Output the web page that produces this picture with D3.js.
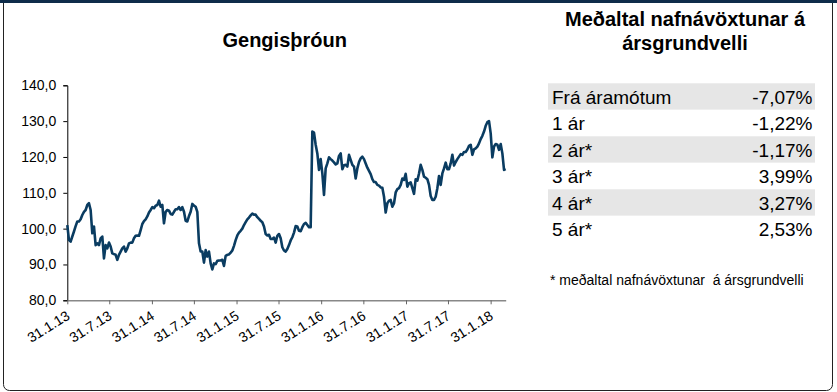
<!DOCTYPE html>
<html>
<head>
<meta charset="utf-8">
<script src="https://cdn.jsdelivr.net/npm/d3@7"></script>
<style>
  html, body { margin: 0; padding: 0; background: #fff; }
  svg { display: block; font-family: "Liberation Sans", Arial, sans-serif; }
</style>
</head>
<body>
<svg id="chart" width="837" height="392"></svg>
<script>
// Exchange-rate index, evenly spaced samples from 31.1.2013 to early April 2018
const firstDate = new Date(2013, 0, 31);
const lastDate = new Date(2018, 3, 6);
const indexValues = [
  101.0, 96.8, 96.4, 97.8, 99.2, 100.7, 102.0, 102.0, 102.6, 103.8,
  104.7, 105.2, 106.6, 107.1, 105.2, 98.7, 100.6, 95.4, 95.9, 95.4,
  97.3, 97.8, 91.7, 95.4, 94.5, 96.1, 95.0, 93.1, 92.9, 92.7,
  91.3, 92.7, 93.6, 94.5, 95.0, 93.6, 94.5, 95.9, 96.1, 96.1,
  97.3, 98.0, 98.1, 98.0, 99.6, 101.3, 102.1, 102.6, 103.4, 104.5,
  105.2, 106.0, 105.7, 106.4, 106.6, 107.8, 106.1, 106.6, 101.5, 104.7,
  105.2, 105.0, 104.1, 103.9, 104.7, 105.4, 105.4, 106.0, 105.2, 106.0,
  104.7, 102.2, 102.0, 103.5, 104.7, 106.9, 106.4, 106.1, 104.7, 95.9,
  93.6, 93.6, 90.5, 94.0, 92.2, 93.6, 90.3, 88.6, 90.3, 90.1,
  91.0, 91.1, 91.1, 91.3, 89.6, 92.4, 92.7, 92.8, 93.3, 93.9,
  95.2, 96.8, 98.1, 98.9, 99.4, 100.0, 101.0, 101.8, 102.6, 103.1,
  103.7, 104.2, 103.9, 103.9, 103.2, 102.7, 102.2, 101.8, 100.6, 98.5,
  98.1, 98.3, 97.1, 97.1, 97.5, 96.1, 98.0, 98.5,
  97.3, 94.8, 93.9, 93.6, 94.3, 95.4, 96.7, 97.6, 98.9, 100.7,
  100.6, 99.4, 99.3, 100.4, 101.3, 101.6, 101.0, 100.4, 100.4, 127.1,
  126.8, 123.4, 121.0, 116.4, 119.4, 115.4, 109.4, 116.8, 118.2, 119.9,
  119.4, 119.0, 118.5, 117.9, 118.2, 120.3, 121.0, 116.6, 117.7, 117.8,
  117.3, 120.6, 119.2, 117.8, 117.3, 114.0, 116.8, 118.6, 119.6, 120.1,
  119.4, 118.2, 117.0, 116.1, 115.2, 113.8, 113.0, 113.0, 112.2, 112.0,
  111.5, 111.4, 108.9, 104.5, 107.1, 107.8, 108.0, 106.1, 107.1, 110.1,
  111.0, 111.3, 112.2, 114.0, 113.6, 115.3, 111.7, 112.7, 112.9, 111.3,
  109.7, 113.8, 113.4, 115.4, 117.8, 116.4, 114.5, 114.2, 113.8, 112.2,
  109.1, 108.0, 108.0, 108.9, 111.3, 114.7, 112.2, 115.4, 116.8, 118.4,
  116.6, 116.6, 118.2, 120.6, 117.6, 118.6, 119.4, 120.1, 120.8, 120.6,
  121.4, 121.4, 122.1, 123.1, 123.4, 120.6, 122.1, 122.4, 122.9, 123.8,
  125.0, 125.9, 127.1, 128.7, 129.7, 130.0, 126.6, 119.9, 122.9, 123.6,
  123.4, 122.0, 123.6, 121.0, 116.4, 116.6
];

const yTicks = [80, 90, 100, 110, 120, 130, 140];
const xTickDates = [
  "2013-01-31", "2013-07-31", "2014-01-31", "2014-07-31", "2015-01-31", "2015-07-31",
  "2016-01-31", "2016-07-31", "2017-01-31", "2017-07-31", "2018-01-31"
];
const xTickLabels = [
  "31.1.13", "31.7.13", "31.1.14", "31.7.14", "31.1.15", "31.7.15",
  "31.1.16", "31.7.16", "31.1.17", "31.7.17", "31.1.18"
];

// Average nominal return, annualised
const returnLabels = ["Frá áramótum", "1 ár", "2 ár*", "3 ár*", "4 ár*", "5 ár*"];
const returnValues = ["-7,07%", "-1,22%", "-1,17%", "3,99%", "3,27%", "2,53%"];

const chartTitle = "Gengisþróun";
const tableTitle = ["Meðaltal nafnávöxtunar á", "ársgrundvelli"];
const footnote = "* meðaltal nafnávöxtunar  á ársgrundvelli";

const svg = d3.select("#chart");
const W = 837, H = 392;

// panel frame with the navy strip along the top
svg.append("rect")
  .attr("x", 3.5).attr("y", -10).attr("width", 829).attr("height", 400.5)
  .attr("rx", 6).attr("ry", 6)
  .attr("fill", "#fff").attr("stroke", "#222").attr("stroke-width", 1);
svg.append("rect")
  .attr("x", 0).attr("y", 0).attr("width", W).attr("height", 3)
  .attr("fill", "#0e2c4a");

// ---- line chart ----
const plot = { left: 67.3, right: 505.7, top: 85.3, bottom: 300.3 };

const x = d3.scaleTime()
  .domain([firstDate, lastDate])
  .range([plot.left, plot.right]);
const y = d3.scaleLinear()
  .domain([80, 140])
  .range([plot.bottom, plot.top]);

const n = indexValues.length;
const span = lastDate - firstDate;
const series = indexValues.map((v, i) => ({
  date: new Date(+firstDate + span * i / (n - 1)),
  value: v
}));

svg.append("text")
  .attr("x", 284.7).attr("y", 46.7)
  .attr("text-anchor", "middle")
  .attr("font-size", 20).attr("font-weight", "bold")
  .attr("fill", "#000")
  .text(chartTitle);

const comma = d => d.toFixed(1).replace(".", ",");

const yAxis = svg.append("g")
  .attr("transform", `translate(${plot.left},0)`)
  .call(d3.axisLeft(y).tickValues(yTicks).tickSize(4).tickPadding(7).tickFormat(comma));
yAxis.select(".domain").attr("stroke", "#000").attr("stroke-width", 1);
yAxis.selectAll(".tick line").attr("stroke", "#000");
yAxis.selectAll(".tick text")
  .attr("font-size", 14).attr("fill", "#000")
  .attr("font-family", "'Liberation Sans', Arial, sans-serif");

const parseDay = d3.timeParse("%Y-%m-%d");
const tickDates = xTickDates.map(parseDay);
const labelByTime = new Map(tickDates.map((d, i) => [+d, xTickLabels[i]]));

const xAxis = svg.append("g")
  .attr("transform", `translate(0,${plot.bottom})`)
  .call(d3.axisBottom(x).tickValues(tickDates).tickSize(4).tickSizeOuter(0)
    .tickFormat(d => labelByTime.get(+d)));
xAxis.select(".domain").attr("stroke", "#888").attr("stroke-width", 1.5);
xAxis.selectAll(".tick line").attr("stroke", "#666");
xAxis.selectAll(".tick text")
  .attr("font-size", 14).attr("fill", "#000")
  .attr("font-family", "'Liberation Sans', Arial, sans-serif")
  .attr("text-anchor", "end")
  .attr("dy", 0)
  .attr("y", 0)
  .attr("transform", "translate(3,18) rotate(-32)");

const line = d3.line()
  .x(d => x(d.date))
  .y(d => y(d.value));

svg.append("path")
  .datum(series)
  .attr("d", line)
  .attr("fill", "none")
  .attr("stroke", "#0a3c61")
  .attr("stroke-width", 2.6)
  .attr("stroke-linejoin", "round");

// ---- returns table ----
const table = { left: 548, right: 815, top: 83.3, rowH: 26.5 };

const titleG = svg.append("g");
tableTitle.forEach((t, i) => {
  titleG.append("text")
    .attr("x", 685).attr("y", 26 + i * 24)
    .attr("text-anchor", "middle")
    .attr("font-size", 20).attr("font-weight", "bold").attr("fill", "#000")
    .text(t);
});

const rowScale = d3.scaleBand()
  .domain(returnLabels)
  .range([table.top, table.top + table.rowH * returnLabels.length]);

const rows = svg.append("g").selectAll("g")
  .data(returnLabels.map((label, i) => ({ label, value: returnValues[i], i })))
  .join("g")
  .attr("transform", d => `translate(0,${rowScale(d.label)})`);

rows.append("rect")
  .attr("x", table.left).attr("width", table.right - table.left)
  .attr("height", rowScale.bandwidth())
  .attr("fill", d => d.i % 2 === 0 ? "#e6e6e6" : "#fff");

rows.append("text")
  .attr("x", table.left + 4).attr("y", 20.5)
  .attr("font-size", 19).attr("fill", "#000")
  .text(d => d.label);

rows.append("text")
  .attr("x", table.right - 2.5).attr("y", 20.5)
  .attr("text-anchor", "end")
  .attr("font-size", 19).attr("fill", "#000")
  .text(d => d.value);

svg.append("text")
  .attr("x", table.left + 2).attr("y", 285)
  .attr("font-size", 14).attr("fill", "#000")
  .attr("xml:space", "preserve")
  .style("white-space", "pre")
  .text(footnote);
</script>
</body>
</html>
